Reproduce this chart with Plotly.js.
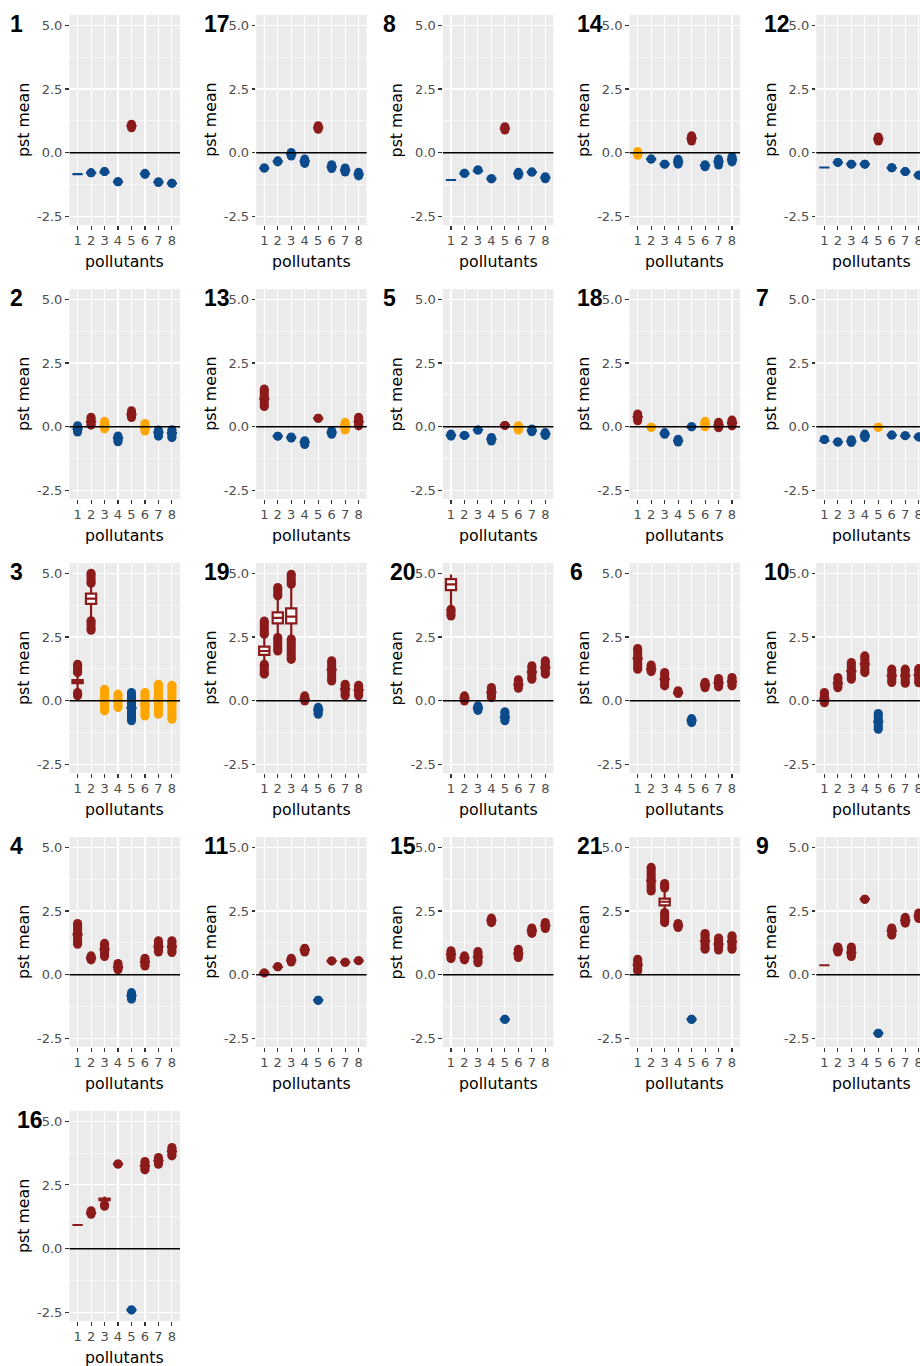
<!DOCTYPE html>
<html>
<head>
<meta charset="utf-8">
<script src="https://cdn.plot.ly/plotly-3.0.1.min.js"></script>
<style>
html, body { margin: 0; padding: 0; overflow: hidden; background: #ffffff; }
#chart { width: 934px; height: 1370px; }
</style>
</head>
<body>
<div id="chart"></div>
<script>
// ---------------- DATA ----------------
const panelIds = [1, 17, 8, 14, 12, 2, 13, 5, 18, 7, 3, 19, 20, 6, 10, 4, 11, 15, 21, 9, 16];
const pollutants = [1, 2, 3, 4, 5, 6, 7, 8];
const pollutantLabels = ["1", "2", "3", "4", "5", "6", "7", "8"];
const yTickVals = [-2.5, 0, 2.5, 5];
const yTickText = ["-2.5", "0.0", "2.5", "5.0"];

// colour class per pollutant: r = positive, b = negative, o = neutral
const colourCodes = [
  "bbbbrbbb", "bbbbrbbb", "bbbbrbbb", "obbbrbbb", "bbbbrbbb",
  "brobrobb", "rbbbrbor", "bbbbrobb", "robbborr", "bbbbobbb",
  "rroobooo", "rrrrbrrr", "rrbrbrrr", "rrrrbrrr", "rrrrbrrr",
  "rrrrbrrr", "rrrrbrrr", "rrrrbrrr", "rrrrbrrr", "rrrrbrrr",
  "rrrrbrrr"
];

const medians = [
  [-0.84, -0.79, -0.77, -1.14, 1.05, -0.83, -1.15, -1.2],
  [-0.61, -0.34, -0.06, -0.33, 0.98, -0.55, -0.68, -0.85],
  [-1.07, -0.82, -0.72, -1.02, 0.95, -0.82, -0.76, -0.98],
  [-0.02, -0.25, -0.45, -0.35, 0.56, -0.5, -0.35, -0.27],
  [-0.58, -0.38, -0.45, -0.45, 0.54, -0.6, -0.74, -0.88],
  [-0.08, 0.2, 0.05, -0.45, 0.48, -0.04, -0.22, -0.25],
  [1.1, -0.37, -0.42, -0.6, 0.33, -0.22, 0.05, 0.2],
  [-0.33, -0.35, -0.13, -0.49, 0.06, -0.04, -0.15, -0.28],
  [0.38, 0.0, -0.27, -0.55, 0.0, 0.1, 0.07, 0.15],
  [-0.55, -0.6, -0.57, -0.36, 0.0, -0.33, -0.36, -0.4],
  [0.75, 4.0, 0.03, 0.0, -0.28, -0.15, 0.05, -0.05],
  [1.95, 3.25, 3.3, 0.07, -0.37, 1.22, 0.45, 0.42],
  [4.56, 0.1, -0.28, 0.33, -0.64, 0.63, 1.12, 1.3],
  [1.66, 1.25, 0.85, 0.3, -0.77, 0.62, 0.7, 0.75],
  [0.08, 0.68, 1.16, 1.44, -0.82, 0.98, 0.98, 1.0],
  [1.58, 0.65, 0.99, 0.3, -0.82, 0.5, 1.1, 1.1],
  [0.07, 0.31, 0.56, 0.97, -1.0, 0.54, 0.49, 0.55],
  [0.8, 0.66, 0.7, 2.13, -1.75, 0.83, 1.73, 1.93],
  [0.39, 3.69, 2.86, 1.93, -1.75, 1.32, 1.2, 1.3],
  [0.37, 0.98, 0.87, 2.96, -2.3, 1.72, 2.13, 2.3],
  [0.93, 1.4, 1.93, 3.32, -2.4, 3.25, 3.45, 3.82]
];

// lowest and highest outlier per pollutant (null = none)
const outLow = [
  [null, -0.79, -0.74, -1.14, 0.98, -0.85, -1.17, -1.2],
  [-0.6, -0.36, -0.13, -0.42, 0.92, -0.62, -0.76, -0.91],
  [null, -0.81, -0.68, -1.02, 0.89, -0.89, -0.76, -1.02],
  [-0.1, -0.25, -0.45, -0.45, 0.46, -0.55, -0.48, -0.36],
  [null, -0.38, -0.45, -0.45, 0.46, -0.59, -0.74, -0.88],
  [-0.21, 0.06, -0.08, -0.59, 0.36, -0.17, -0.37, -0.43],
  [0.79, -0.37, -0.45, -0.7, 0.33, -0.3, -0.13, 0.03],
  [-0.37, -0.34, -0.13, -0.56, 0.05, -0.13, -0.2, -0.34],
  [0.23, -0.02, -0.3, -0.6, 0.0, 0.0, -0.04, 0.03],
  [-0.5, -0.6, -0.62, -0.43, -0.02, -0.33, -0.35, -0.4],
  [0.19, 2.76, -0.4, -0.27, -0.79, -0.6, -0.53, -0.73],
  [1.04, 1.95, 1.62, -0.01, -0.53, 0.77, 0.19, 0.19],
  [3.32, -0.01, -0.38, 0.12, -0.79, 0.49, 0.84, 1.04],
  [1.23, 1.14, 0.58, 0.28, -0.86, 0.51, 0.54, 0.58],
  [-0.08, 0.51, 0.84, 1.1, -1.12, 0.71, 0.68, 0.7],
  [1.19, 0.58, 0.71, 0.19, -0.96, 0.34, 0.89, 0.87],
  [0.07, 0.31, 0.5, 0.89, -1.0, 0.54, 0.49, 0.55],
  [0.63, 0.58, 0.47, 2.04, -1.75, 0.67, 1.62, 1.81],
  [0.15, 3.28, 2.04, 1.85, -1.75, 1.0, 0.97, 1.0],
  [null, 0.89, 0.71, 2.96, -2.3, 1.55, 2.02, 2.2],
  [null, 1.35, 1.66, 3.32, -2.4, 3.09, 3.31, 3.64]
];
const outHigh = [
  [null, -0.79, -0.74, -1.14, 1.12, -0.81, -1.14, -1.2],
  [-0.6, -0.32, 0.01, -0.25, 1.06, -0.47, -0.6, -0.77],
  [null, -0.81, -0.68, -1.02, 1.02, -0.77, -0.76, -0.94],
  [0.05, -0.25, -0.45, -0.26, 0.66, -0.47, -0.25, -0.16],
  [null, -0.38, -0.45, -0.45, 0.62, -0.59, -0.74, -0.88],
  [0.04, 0.37, 0.21, -0.36, 0.63, 0.13, -0.13, -0.12],
  [1.48, -0.37, -0.4, -0.55, 0.33, -0.16, 0.17, 0.37],
  [-0.29, -0.34, -0.13, -0.42, 0.05, 0.04, -0.09, -0.23],
  [0.5, -0.02, -0.23, -0.49, 0.0, 0.21, 0.17, 0.26],
  [-0.5, -0.6, -0.51, -0.29, -0.02, -0.33, -0.35, -0.4],
  [1.43, 5.0, 0.45, 0.26, 0.32, 0.32, 0.65, 0.61],
  [3.13, 4.44, 4.96, 0.19, -0.26, 1.57, 0.65, 0.61],
  [null, 0.19, -0.2, 0.52, -0.43, 0.82, 1.37, 1.57],
  [2.05, 1.4, 1.11, 0.39, -0.7, 0.72, 0.87, 0.91],
  [0.32, 0.91, 1.5, 1.76, -0.5, 1.24, 1.24, 1.26],
  [2.01, 0.74, 1.23, 0.44, -0.7, 0.65, 1.33, 1.33],
  [0.07, 0.31, 0.65, 1.04, -1.0, 0.54, 0.49, 0.55],
  [0.94, 0.74, 0.91, 2.22, -1.75, 1.0, 1.83, 2.05],
  [0.61, 4.21, 3.58, 2.01, -1.75, 1.62, 1.44, 1.53],
  [null, 1.09, 1.09, 2.96, -2.3, 1.83, 2.25, 2.42],
  [null, 1.49, null, 3.32, -2.4, 3.42, 3.58, 3.97]
];

// boxes with visible spread (panel id, pollutant, quartiles, whisker ends)
const boxPanel     = [3, 3, 19, 19, 19, 20, 21, 16];
const boxPollutant = [1, 2, 1, 2, 3, 1, 3, 3];
const boxQ1        = [0.69, 3.8, 1.8, 3.03, 3.03, 4.34, 2.72, 1.9];
const boxQ3        = [0.81, 4.2, 2.12, 3.46, 3.62, 4.77, 2.98, 1.96];
const fenceLow     = [0.32, 3.14, 1.43, 2.48, 2.42, 3.59, 2.44, 1.74];
const fenceHigh    = [1.1, 4.6, 2.6, 4.11, 4.56, 4.95, 3.4, 2.05];

// ---------------- STYLE ----------------
const COLOURS = { r: "#8B1A1A", b: "#0B4A8B", o: "#FFA500" };
const FONT = "DejaVu Sans, Liberation Sans, Arial, sans-serif";
const LABEL_FONT = "Liberation Sans, Arial, Helvetica, sans-serif";
const W = 934, H = 1370;
const COL_PITCH = 186.7, ROW_PITCH = 274;
const PLOT_L = 69.5, PLOT_W = 110.5, PLOT_T = 15, PLOT_H = 210;
const DOT = 9;

const traces = [];
const layout = {
  width: W, height: H,
  margin: { l: 0, r: 0, t: 0, b: 0 },
  paper_bgcolor: "#ffffff",
  plot_bgcolor: "#EBEBEB",
  showlegend: false,
  boxmode: "overlay",
  font: { family: FONT, color: "#000" },
  annotations: [],
  shapes: []
};

panelIds.forEach(function (pid, k) {
  const col = k % 5, row = Math.floor(k / 5);
  const x0 = PLOT_L + COL_PITCH * col, x1 = x0 + PLOT_W;
  const y0 = PLOT_T + ROW_PITCH * row, y1 = y0 + PLOT_H;
  const sfx = k === 0 ? "" : String(k + 1);
  const xa = "x" + sfx, ya = "y" + sfx;

  layout["xaxis" + sfx] = {
    domain: [x0 / W, x1 / W],
    anchor: ya,
    range: [0.4, 8.6],
    tickmode: "array", tickvals: pollutants, ticktext: pollutantLabels,
    showgrid: true, gridcolor: "#ffffff", gridwidth: 1.1,
    zeroline: false, showline: false,
    ticks: "outside", ticklen: 3.5, tickwidth: 1.1, tickcolor: "#333333",
    tickfont: { family: FONT, size: 13, color: "#4D4D4D" },
    fixedrange: true
  };
  layout["yaxis" + sfx] = {
    domain: [1 - y1 / H, 1 - y0 / H],
    anchor: xa,
    range: [-2.835, 5.40],
    tickmode: "array", tickvals: yTickVals, ticktext: yTickText,
    showgrid: true, gridcolor: "#ffffff", gridwidth: 1.1,
    minor: { tickmode: "array", tickvals: [-1.25, 1.25, 3.75], showgrid: true,
             gridcolor: "#ffffff", gridwidth: 0.55, ticks: "" },
    zeroline: false, showline: false,
    ticks: "outside", ticklen: 3.5, tickwidth: 1.1, tickcolor: "#333333",
    tickfont: { family: FONT, size: 13, color: "#4D4D4D" },
    fixedrange: true
  };

  // group pollutants by colour
  ["r", "b", "o"].forEach(function (c) {
    const idx = [];
    for (let i = 0; i < 8; i++) if (colourCodes[k][i] === c) idx.push(i);
    if (!idx.length) return;
    const bx = [], bq1 = [], bmed = [], bq3 = [], blo = [], bhi = [];
    const sx = [], sy = [];
    idx.forEach(function (i) {
      const p = pollutants[i];
      const med = medians[k][i];
      const lo = outLow[k][i], hi = outHigh[k][i];
      let s = -1;
      for (let j = 0; j < boxPanel.length; j++) {
        if (boxPanel[j] === pid && boxPollutant[j] === p) s = j;
      }
      bx.push(p); bmed.push(med);
      if (s >= 0) {
        bq1.push(boxQ1[s]); bq3.push(boxQ3[s]);
        blo.push(fenceLow[s]); bhi.push(fenceHigh[s]);
        if (lo !== null) { sx.push(p, p, null); sy.push(lo, fenceLow[s], null); }
        if (hi !== null) { sx.push(p, p, null); sy.push(fenceHigh[s], hi, null); }
      } else {
        bq1.push(med); bq3.push(med); blo.push(med); bhi.push(med);
        if (lo !== null && hi !== null) { sx.push(p, p, null); sy.push(lo, hi, null); }
      }
    });
    if (sx.length) {
      traces.push({
        type: "scatter", mode: "lines+markers", xaxis: xa, yaxis: ya,
        x: sx, y: sy, connectgaps: false,
        line: { color: COLOURS[c], width: DOT },
        marker: { color: COLOURS[c], size: DOT, line: { width: 0 } },
        hoverinfo: "skip", showlegend: false
      });
    }
    traces.push({
      type: "box", xaxis: xa, yaxis: ya,
      x: bx, q1: bq1, median: bmed, q3: bq3, lowerfence: blo, upperfence: bhi,
      boxpoints: false, whiskerwidth: 0, width: 0.76,
      fillcolor: "#ffffff",
      line: { color: COLOURS[c], width: 2.2 },
      hoverinfo: "skip", showlegend: false
    });
  });

  // zero reference line
  layout.shapes.push({
    type: "line", xref: xa + " domain", yref: ya, x0: 0, x1: 1, y0: 0, y1: 0,
    line: { color: "#000000", width: 1.4 }, layer: "above"
  });

  const cellX = COL_PITCH * col, cellY = ROW_PITCH * row;
  // panel label
  layout.annotations.push({
    xref: "paper", yref: "paper", showarrow: false,
    x: (cellX + (String(pid).length === 1 ? 16 : 30)) / W,
    y: 1 - (cellY + 23.5) / H,
    xanchor: "center", yanchor: "middle",
    text: "<b>" + pid + "</b>",
    font: { family: LABEL_FONT, size: 23, color: "#000" }
  });
  // y title
  layout.annotations.push({
    xref: "paper", yref: "paper", showarrow: false,
    x: (cellX + 23) / W, y: 1 - (cellY + 120) / H,
    xanchor: "center", yanchor: "middle", textangle: -90,
    text: "pst mean", font: { family: FONT, size: 15.8, color: "#000" }
  });
  // x title
  layout.annotations.push({
    xref: "paper", yref: "paper", showarrow: false,
    x: (x0 + PLOT_W / 2) / W, y: 1 - (cellY + 261) / H,
    xanchor: "center", yanchor: "middle",
    text: "pollutants", font: { family: FONT, size: 15.8, color: "#000" }
  });
});

Plotly.newPlot("chart", traces, layout, { staticPlot: true, displayModeBar: false });
</script>
</body>
</html>
